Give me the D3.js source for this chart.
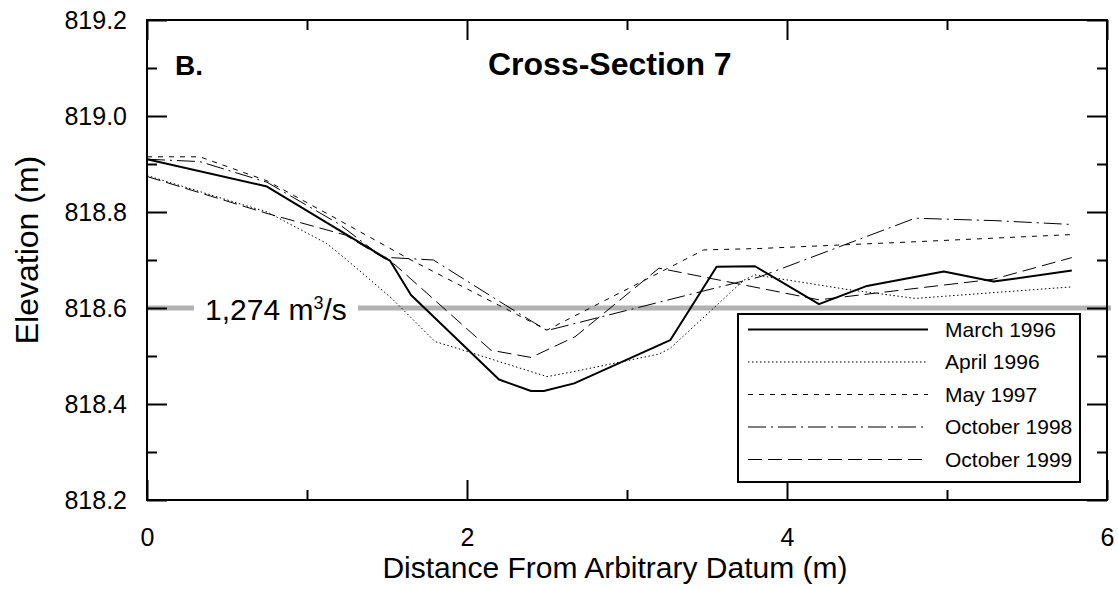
<!DOCTYPE html>
<html><head><meta charset="utf-8">
<script src="https://cdn.jsdelivr.net/npm/d3@7"></script>
<style>body{margin:0;background:#fff}svg{display:block}text{font-family:"Liberation Sans",Arial,sans-serif;fill:#000}</style>
</head><body><svg id="c" width="1118" height="590"></svg>
<script>
// ---- data ----
const xMajorTicks = [0, 2, 4, 6];
const xMinorTicks = [1, 3, 5];
const yMajorTicks = [818.2, 818.4, 818.6, 818.8, 819.0, 819.2];
const yMinorTicks = [818.3, 818.5, 818.7, 818.9, 819.1];
const seriesNames = ["March 1996", "April 1996", "May 1997", "October 1998", "October 1999"];

const march1996X = [0, 0.75, 1.52, 1.65, 2.2, 2.4, 2.48, 2.67, 3.27, 3.56, 3.8, 4.2, 4.5, 4.98, 5.29, 5.78];
const march1996Y = [818.91, 818.853, 818.698, 818.627, 818.451, 818.427, 818.427, 818.443, 818.533, 818.686, 818.687, 818.608, 818.646, 818.676, 818.655, 818.678];

const april1996X = [0, 0.75, 1.12, 1.25, 1.53, 1.8, 1.9, 2.5, 2.66, 3.2, 3.27, 3.73, 3.8, 4.39, 4.8, 5.78];
const april1996Y = [818.876, 818.8, 818.735, 818.7, 818.62, 818.53, 818.52, 818.457, 818.467, 818.504, 818.516, 818.658, 818.669, 818.638, 818.62, 818.644];

const may1997X = [0, 0.33, 0.75, 1.2, 1.65, 2.5, 3.48, 3.83, 4.8, 5.78];
const may1997Y = [818.915, 818.915, 818.865, 818.783, 818.7, 818.554, 818.721, 818.724, 818.738, 818.753];

const oct1998X = [0, 0.33, 0.75, 1.2, 1.47, 1.79, 2.24, 2.5, 3.83, 4.8, 5.3, 5.78];
const oct1998Y = [818.91, 818.905, 818.862, 818.775, 818.706, 818.7, 818.606, 818.553, 818.665, 818.787, 818.782, 818.774];

const oct1999X = [0, 0.75, 1.24, 1.55, 2.15, 2.4, 2.675, 3.2, 4.2, 5.29, 5.78];
const oct1999Y = [818.874, 818.797, 818.752, 818.69, 818.512, 818.497, 818.54, 818.683, 818.617, 818.66, 818.705];

const dischargeLevel = 818.6;
const dischargeLabel = "1,274 m";

// ---- layout ----
const L = 147, R = 1107, T = 20, B = 500;
const svg = d3.select("#c");
const x = d3.scaleLinear().domain([0, 6]).range([L, R]);
const y = d3.scaleLinear().domain([818.2, 819.2]).range([B, T]);

// discharge line
svg.append("line").attr("x1", L).attr("x2", R + 4).attr("y1", y(dischargeLevel)).attr("y2", y(dischargeLevel))
  .attr("stroke", "#b2b2b2").attr("stroke-width", 5);
svg.append("rect").attr("x", 194).attr("y", y(dischargeLevel) - 6).attr("width", 164).attr("height", 12).attr("fill", "#fff");
const dl = svg.append("text").attr("x", 205).attr("y", 320).attr("font-size", 30);
dl.append("tspan").text(dischargeLabel);
dl.append("tspan").attr("font-size", 18).attr("dy", -11).text("3");
dl.append("tspan").attr("dy", 11).text("/s");

// series
const series = [
  { xs: march1996X, ys: march1996Y, w: 2, dash: null },
  { xs: april1996X, ys: april1996Y, w: 1, dash: "1.5,2.5" },
  { xs: may1997X, ys: may1997Y, w: 1, dash: "5,6" },
  { xs: oct1998X, ys: oct1998Y, w: 1, dash: "18,5,2,5" },
  { xs: oct1999X, ys: oct1999Y, w: 1, dash: "14,6" }
];
const line = d3.line().x(d => x(d[0])).y(d => y(d[1]));
series.forEach(s => {
  const pts = s.xs.map((v, i) => [v, s.ys[i]]);
  svg.append("path").attr("d", line(pts)).attr("fill", "none").attr("stroke", "#000")
    .attr("stroke-width", s.w).attr("stroke-dasharray", s.dash).attr("stroke-linejoin", "round");
});

// axes
function axisGroup(axis, tx, ty) {
  const g = svg.append("g").attr("transform", `translate(${tx},${ty})`).call(axis);
  g.select(".domain").remove();
  g.selectAll(".tick line").attr("stroke", "#000").attr("stroke-width", 2);
  return g;
}
const gb = axisGroup(d3.axisBottom(x).tickValues(xMajorTicks).tickSize(-20).tickPadding(29).tickFormat(d3.format("d")), 0, B);
gb.selectAll("text").attr("font-size", 25).attr("font-family", "Liberation Sans, Arial").attr("dy", 0).attr("y", 46);
axisGroup(d3.axisBottom(x).tickValues(xMinorTicks).tickSize(-10).tickFormat(""), 0, B);
axisGroup(d3.axisTop(x).tickValues(xMajorTicks).tickSize(-20).tickFormat(""), 0, T);
axisGroup(d3.axisTop(x).tickValues(xMinorTicks).tickSize(-10).tickFormat(""), 0, T);
const gl = axisGroup(d3.axisLeft(y).tickValues(yMajorTicks).tickSize(-20).tickPadding(20).tickFormat(d3.format(".1f")), L, 0);
gl.selectAll("text").attr("font-size", 25).attr("font-family", "Liberation Sans, Arial");
axisGroup(d3.axisLeft(y).tickValues(yMinorTicks).tickSize(-10).tickFormat(""), L, 0);
axisGroup(d3.axisRight(y).tickValues(yMajorTicks).tickSize(-20).tickFormat(""), R, 0);
axisGroup(d3.axisRight(y).tickValues(yMinorTicks).tickSize(-10).tickFormat(""), R, 0);

// frame
svg.append("rect").attr("x", L).attr("y", T).attr("width", R - L).attr("height", B - T)
  .attr("fill", "none").attr("stroke", "#000").attr("stroke-width", 2);

// titles
svg.append("text").attr("x", 175).attr("y", 75).attr("font-size", 28).attr("font-weight", "bold").text("B.");
svg.append("text").attr("x", 488).attr("y", 75).attr("font-size", 32).attr("font-weight", "bold").text("Cross-Section 7");
svg.append("text").attr("x", 615).attr("y", 578).attr("text-anchor", "middle").attr("font-size", 30).text("Distance From Arbitrary Datum (m)");
svg.append("text").attr("transform", "translate(38,250) rotate(-90)").attr("text-anchor", "middle").attr("font-size", 32).text("Elevation (m)");

// legend
const lg = svg.append("g");
lg.append("rect").attr("x", 738).attr("y", 314).attr("width", 342).attr("height", 168)
  .attr("fill", "#fff").attr("stroke", "#000").attr("stroke-width", 2);
seriesNames.forEach((name, i) => {
  const yy = 329.5 + i * 32.5;
  lg.append("line").attr("x1", 748).attr("x2", 928).attr("y1", yy).attr("y2", yy)
    .attr("stroke", "#000").attr("stroke-width", series[i].w).attr("stroke-dasharray", series[i].dash);
  lg.append("text").attr("x", 945).attr("y", yy + 7).attr("font-size", 21).text(name);
});
</script></body></html>
